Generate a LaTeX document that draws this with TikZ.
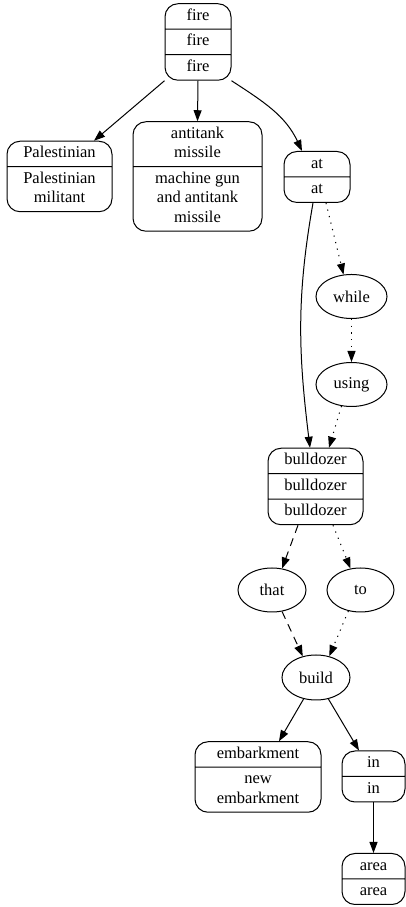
\documentclass[tikz,border=0pt]{standalone}
\usepackage{fontspec}
\setmainfont{Liberation Serif}
\usetikzlibrary{shapes.multipart, shapes.geometric, arrows.meta}

\begin{document}
\begin{tikzpicture}[x=1pt, y=1pt, line width=1pt,
  font=\fontsize{16.5}{19.5}\selectfont,
  every node/.style={inner xsep=5pt, inner ysep=2.5pt, align=center},
  rec/.style={draw, rectangle split, rounded corners=13pt, minimum width=#1},
  rec/.default=66pt,
  word/.style={draw, ellipse, minimum width=#1, minimum height=44pt, inner sep=0pt},
  word/.default=68pt,
  edge/.style={-{Triangle[length=11pt,width=8pt]}},
  dash edge/.style={edge, dash pattern=on 8pt off 6pt},
  dot edge/.style={edge, dash pattern=on 1.2pt off 5.5pt}]
\useasboundingbox (0,0) rectangle (405,907);

% records
\node[rec, rectangle split parts=3] (fire) at (198,865)
  {fire\strut\nodepart{two}fire\strut\nodepart{three}fire\strut};
\node[rec=105pt, rectangle split parts=2] (pal) at (59.5,730.5)
  {Palestinian\strut\nodepart{two}Palestinian\strut\\militant\strut};
\node[rec=129pt, rectangle split parts=2] (missile) at (197.5,730.5)
  {antitank\strut\\missile\strut\nodepart{two}machine gun\strut\\and antitank\strut\\missile\strut};
\node[rec, rectangle split parts=2] (at) at (317,730)
  {at\strut\nodepart{two}at\strut};
\node[rec=95pt, rectangle split parts=3] (bull) at (315.5,420.5)
  {bulldozer\strut\nodepart{two}bulldozer\strut\nodepart{three}bulldozer\strut};
\node[rec=126pt, rectangle split parts=2] (emb) at (258,130)
  {embarkment\strut\nodepart{two}new\strut\\embarkment\strut};
\node[rec=63pt, rectangle split parts=2] (in) at (373.5,130.5)
  {in\strut\nodepart{two}in\strut};
\node[rec=63pt, rectangle split parts=2] (area) at (373.5,28)
  {area\strut\nodepart{two}area\strut};

% words
\node[word=71pt] (while) at (351.5,610.5) {while};
\node[word=71pt] (using) at (351.5,522.5) {using};
\node[word] (that) at (272,317) {that};
\node[word=67pt] (to) at (360.5,317) {to};
\node[word, minimum height=45pt] (build) at (316,229.5) {build};

% edges
\draw[edge] (fire.south west) -- ([xshift=34.5pt]pal.north);
\draw[edge] (fire.south) -- (missile.north);
\draw[edge] (fire.south east) to[out=-33, in=115] ([xshift=-15pt]at.north);
\draw[edge] ([xshift=-4pt]at.south) to[out=-100, in=97] ([xshift=-5.5pt]bull.north);
\draw[dot edge] ([xshift=9pt]at.south) -- (while.110);
\draw[dot edge] (while.south) -- (using.north);
\draw[dot edge] (using.245) -- ([xshift=13.5pt]bull.north);
\draw[dash edge] ([xshift=-17.5pt]bull.south) -- (that.65);
\draw[dot edge] ([xshift=17.5pt]bull.south) -- (to.115);
\draw[dash edge] (that.-65) -- (build.122);
\draw[dot edge] (to.-120) -- (build.58);
\draw[edge] (build.-120) -- ([xshift=21pt]emb.north);
\draw[edge] (build.-60) -- ([xshift=-14.5pt]in.north);
\draw[edge] (in.south) -- (area.north);

\end{tikzpicture}
\end{document}
